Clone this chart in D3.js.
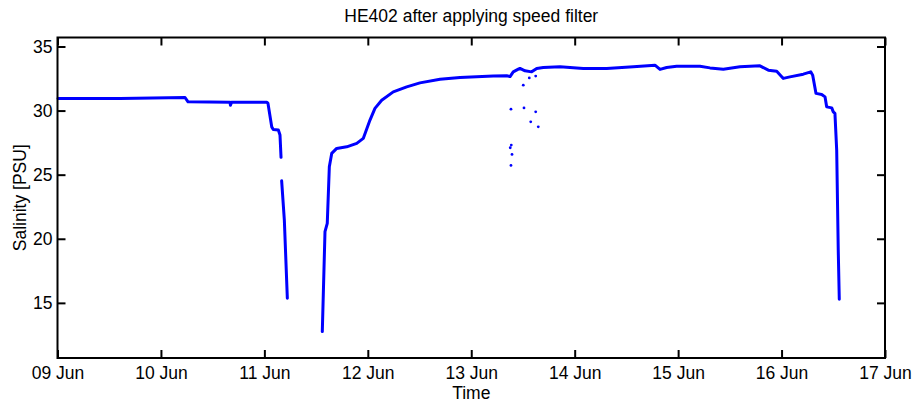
<!DOCTYPE html>
<html>
<head>
<meta charset="utf-8">
<script src="https://cdn.jsdelivr.net/npm/d3@7"></script>
<style>
  html, body { margin: 0; padding: 0; background: #fff; }
  svg { display: block; font-family: "Liberation Sans", Arial, sans-serif; }
</style>
</head>
<body>
<div id="chart"></div>
<script>
// HE402 salinity after speed filter
// time is fractional day of June, null marks a gap in the record
const TIME = [
  9.005, 9.604, 10.233, 10.262, 10.668, 10.672, 10.682, 11.025, 11.035, 11.071, 11.086, 11.135, 11.151, 11.161,
  null,
  11.167, 11.193, 11.222,
  null,
  11.560, 11.586, 11.608, 11.628, 11.651, 11.699, 11.796, 11.893, 11.956, 12.021, 12.069, 12.134, 12.246,
  12.376, 12.504, 12.698, 12.891, 13.213, 13.343, 13.375, 13.406, 13.455, 13.471, 13.520, 13.584, 13.633,
  13.696, 13.858, 14.083, 14.309, 14.567, 14.776, 14.825, 14.889, 14.986, 15.211, 15.308, 15.437, 15.598,
  15.791, 15.872, 15.953, 16.017, 16.081, 16.210, 16.282, 16.301, 16.333, 16.388, 16.420, 16.436, 16.485,
  16.500, 16.516, 16.533, 16.548, 16.558
];
const SALINITY = [
  30.94, 30.95, 31.02, 30.68, 30.64, 30.42, 30.64, 30.64, 30.56, 28.73, 28.53, 28.48, 28.09, 26.35,
  null,
  24.52, 21.46, 15.36,
  null,
  12.76, 20.55, 21.20, 25.62, 26.66, 27.05, 27.17, 27.44, 27.83, 29.26, 30.17, 30.81, 31.46,
  31.85, 32.16, 32.45, 32.58, 32.69, 32.71, 32.65, 33.02, 33.23, 33.29, 33.10, 33.02, 33.29,
  33.36, 33.41, 33.29, 33.29, 33.41, 33.54, 33.21, 33.36, 33.46, 33.46, 33.33, 33.23, 33.41,
  33.49, 33.15, 33.07, 32.51, 32.63, 32.84, 33.02, 32.76, 31.34, 31.26, 31.07, 30.29, 30.21,
  29.90, 29.78, 26.92, 19.12, 15.28
];

// isolated samples left over after filtering
const DOT_TIME = [13.384, 13.503, 13.561, 13.623, 13.510, 13.623, 13.575, 13.648, 13.387, 13.377, 13.394, 13.384];
const DOT_SAL  = [30.11, 31.98, 32.55, 32.69, 30.21, 29.90, 29.12, 28.73, 27.31, 27.10, 26.58, 25.72];

const X_DOMAIN = [9, 17];
const Y_DOMAIN = [10.7, 35.7];
const Y_TICKS = [15, 20, 25, 30, 35];

const TITLE = 'HE402 after applying speed filter';
const X_LABEL = 'Time';
const Y_LABEL = 'Salinity [PSU]';

(function () {
  'use strict';

  const W = 915, H = 403;
  const FS = 17.5;
  const margin = { top: 37.5, right: 30, bottom: 45, left: 57.5 };
  const w = W - margin.left - margin.right;
  const h = H - margin.top - margin.bottom;

  const toDate = (d) => new Date(Date.UTC(2000, 5, 9) + (d - 9) * 864e5);

  const x = d3.scaleUtc().domain(X_DOMAIN.map(toDate)).range([0, w]);
  const y = d3.scaleLinear().domain(Y_DOMAIN).range([h, 0]);

  const svg = d3.select('#chart').append('svg')
    .attr('width', W).attr('height', H);

  const g = svg.append('g').attr('transform', `translate(${margin.left},${margin.top})`);

  // data
  const pts = TIME.map((t, i) => ({ t, s: SALINITY[i] }));
  const line = d3.line()
    .defined(d => d.t !== null && d.s !== null)
    .x(d => x(toDate(d.t)))
    .y(d => y(d.s));

  g.append('path')
    .datum(pts)
    .attr('fill', 'none')
    .attr('stroke', '#0000ff')
    .attr('stroke-width', 3)
    .attr('stroke-linejoin', 'round')
    .attr('stroke-linecap', 'round')
    .attr('d', line);

  g.selectAll('circle.dot')
    .data(DOT_TIME.map((t, i) => ({ t, s: DOT_SAL[i] })))
    .join('circle')
    .attr('class', 'dot')
    .attr('cx', d => x(toDate(d.t)))
    .attr('cy', d => y(d.s))
    .attr('r', 1.4)
    .attr('fill', '#0000ff');

  // axes, ticks pointing inward on all four sides
  const days = d3.range(X_DOMAIN[0], X_DOMAIN[1] + 1).map(toDate);
  const fmt = d3.utcFormat('%d %b');

  const styleAxis = (sel) => {
    sel.select('.domain').remove();
    sel.selectAll('.tick line').attr('stroke', '#000').attr('stroke-width', 2);
    sel.selectAll('.tick text').attr('fill', '#000').attr('font-size', FS)
      .attr('font-family', '"Liberation Sans", Arial, sans-serif');
  };

  g.append('g').attr('transform', `translate(0,${h})`)
    .call(d3.axisBottom(x).tickValues(days).tickFormat(fmt).tickSizeInner(-8).tickPadding(9))
    .call(styleAxis);
  g.append('g')
    .call(d3.axisTop(x).tickValues(days).tickFormat('').tickSizeInner(-8))
    .call(styleAxis);
  g.append('g')
    .call(d3.axisLeft(y).tickValues(Y_TICKS).tickSizeInner(-8).tickPadding(5))
    .call(styleAxis);
  g.append('g').attr('transform', `translate(${w},0)`)
    .call(d3.axisRight(y).tickValues(Y_TICKS).tickFormat('').tickSizeInner(-8))
    .call(styleAxis);

  g.append('rect')
    .attr('width', w).attr('height', h)
    .attr('fill', 'none').attr('stroke', '#000').attr('stroke-width', 2);

  // labels
  svg.append('text')
    .attr('x', margin.left + w / 2).attr('y', 22)
    .attr('text-anchor', 'middle').attr('font-size', FS).attr('fill', '#000')
    .text(TITLE);

  svg.append('text')
    .attr('x', margin.left + w / 2).attr('y', 399)
    .attr('text-anchor', 'middle').attr('font-size', FS).attr('fill', '#000')
    .text(X_LABEL);

  svg.append('text')
    .attr('transform', `translate(26,${margin.top + h / 2}) rotate(-90)`)
    .attr('text-anchor', 'middle').attr('font-size', FS).attr('fill', '#000')
    .text(Y_LABEL);
})();
</script>
</body>
</html>
